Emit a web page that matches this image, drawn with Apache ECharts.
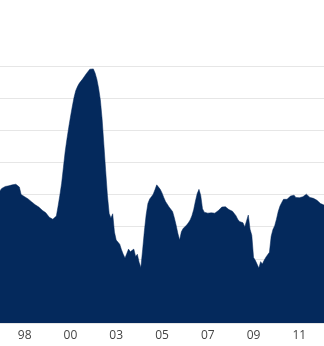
<!DOCTYPE html>
<html>
<head>
<meta charset="utf-8">
<script src="https://cdn.jsdelivr.net/npm/echarts@6/dist/echarts.min.js"></script>
<style>html,body{margin:0;padding:0;background:#fff}#c{width:324px;height:346px}</style>
</head>
<body>
<div id="c"></div>
<script>
// Monthly categories from Aug 1997 to Dec 2012
const startYear = 1997, startMonth = 8, monthCount = 185;
const months = [];
for (let i = 0; i < monthCount; i++) {
  const m = startMonth - 1 + i;
  const y = startYear + Math.floor(m / 12);
  const mm = (m % 12) + 1;
  months.push(y + '-' + (mm < 10 ? '0' + mm : mm));
}
const values = [
  4.12,4.19,4.22,4.25,4.26,4.27,4.28,4.30,4.32,4.32,
  4.29,4.23,4.00,3.95,3.93,3.90,3.86,3.81,3.77,3.72,
  3.68,3.64,3.61,3.58,3.51,3.45,3.43,3.36,3.29,3.25,
  3.23,3.21,3.33,3.64,3.98,4.35,4.84,5.33,5.72,6.08,
  6.41,6.72,7.01,7.23,7.36,7.46,7.53,7.60,7.66,7.76,
  7.70,7.90,7.96,7.91,7.78,7.59,7.31,6.94,6.34,5.55,
  4.75,3.98,3.41,3.27,3.40,2.83,2.58,2.62,2.45,2.28,
  2.14,2.02,2.16,2.30,2.22,2.26,2.30,2.07,2.14,1.89,
  1.73,2.28,2.87,3.37,3.72,3.86,3.93,4.01,4.15,4.30,
  4.26,4.16,4.05,3.91,3.78,3.70,3.61,3.55,3.47,3.28,
  3.05,2.79,2.58,2.84,2.94,2.99,3.05,3.12,3.21,3.34,
  3.53,3.80,4.03,4.16,3.97,3.56,3.45,3.43,3.42,3.42,
  3.43,3.43,3.42,3.46,3.50,3.55,3.61,3.66,3.62,3.56,
  3.53,3.50,3.48,3.42,3.34,3.23,3.16,3.19,3.12,2.99,
  3.05,3.36,2.92,2.73,2.04,1.95,1.90,1.71,1.91,1.84,
  1.95,2.05,2.10,2.20,2.70,2.91,3.03,3.23,3.47,3.64,
  3.75,3.85,3.81,3.85,3.90,3.95,3.99,3.98,3.91,3.89,
  3.90,3.92,3.93,3.98,4.01,3.98,3.91,3.87,3.88,3.88,
  3.82,3.76,3.72,3.70,3.67
];
const labelOffset = 14, labelStep = 26;

const chart = echarts.init(document.getElementById('c'), null, {renderer: 'canvas'});
chart.setOption({
  animation: false,
  grid: {left: 0, right: 0, top: 66, bottom: 23, containLabel: false},
  xAxis: {
    type: 'category',
    data: months,
    boundaryGap: false,
    axisLine: {show: false},
    axisTick: {show: false},
    axisLabel: {
      interval: function (idx) { return idx >= labelOffset && (idx - labelOffset) % labelStep === 0; },
      formatter: function (v) { return v.slice(2, 4); },
      color: '#444',
      fontFamily: 'Open Sans',
      fontSize: 12,
      margin: 7
    },
    splitLine: {show: false}
  },
  yAxis: {
    type: 'value',
    min: 0, max: 8, interval: 1,
    axisLabel: {show: false},
    axisLine: {show: false},
    axisTick: {show: false},
    splitLine: {show: true, lineStyle: {color: '#e6e6e6', width: 1}}
  },
  series: [{
    type: 'line',
    data: values,
    showSymbol: false,
    lineStyle: {width: 0.5, color: '#04295c'},
    areaStyle: {color: '#04295c', opacity: 1}
  }]
});
</script>
</body>
</html>
